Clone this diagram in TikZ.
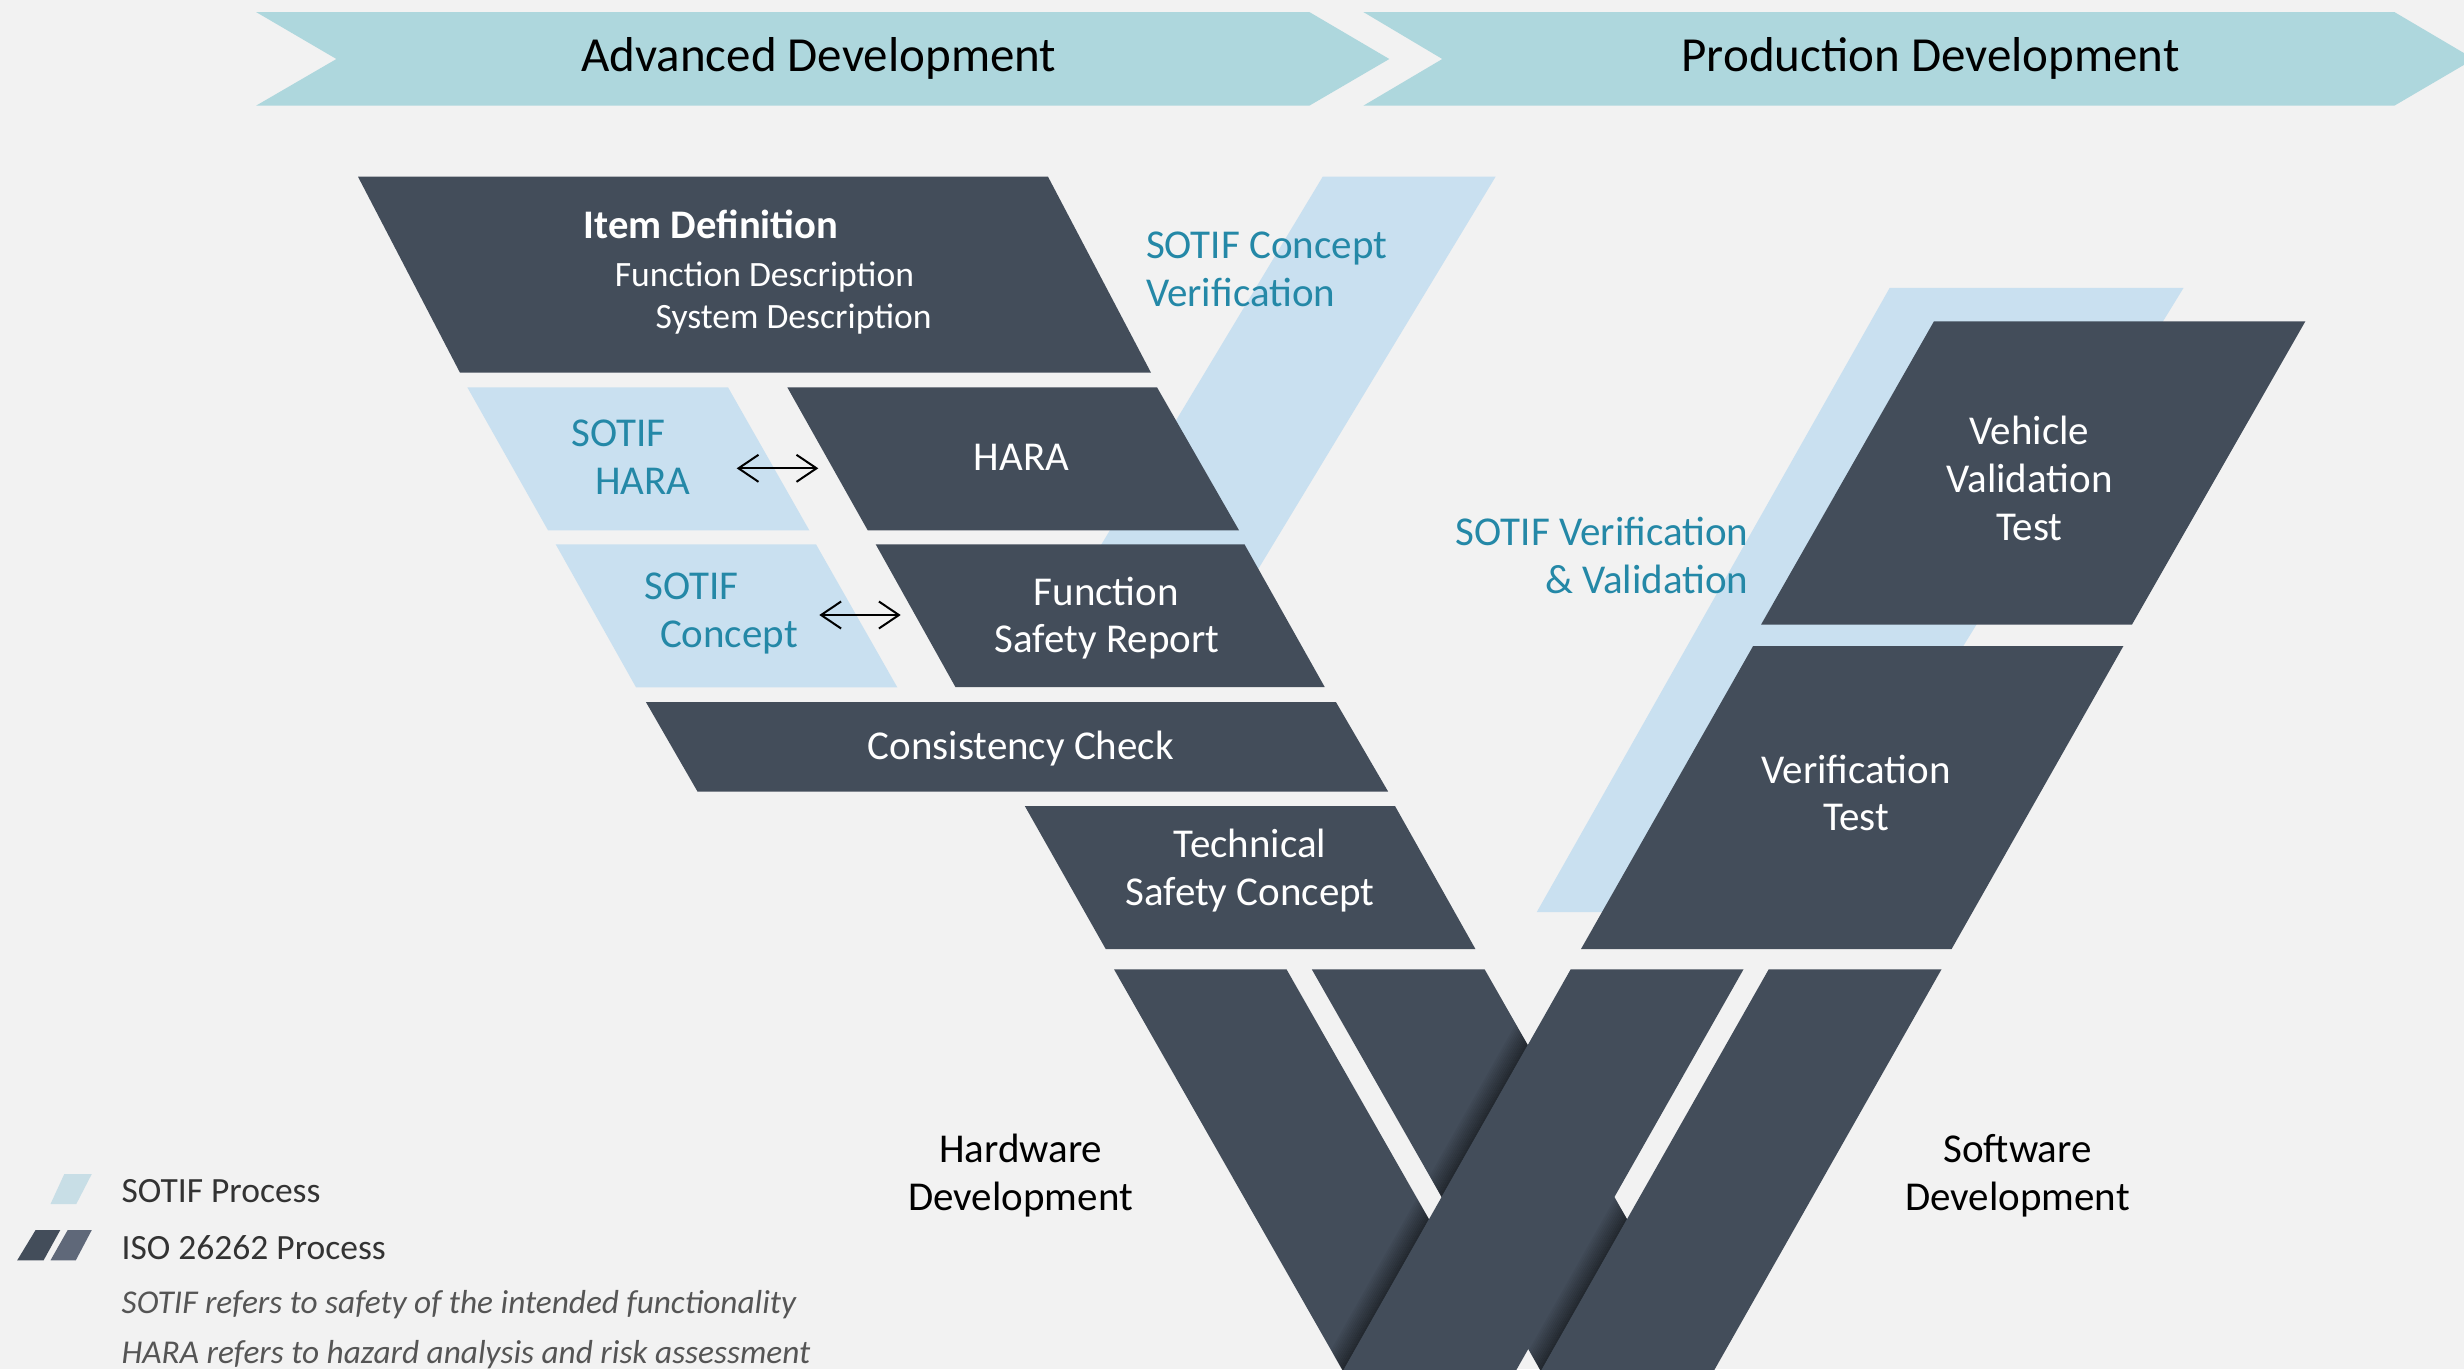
\documentclass[tikz,border=0pt]{standalone}
\usepackage{fontspec}
\setmainfont{Carlito}
\usetikzlibrary{arrows.meta}
\definecolor{bg}{HTML}{F2F2F2}
\definecolor{dark}{HTML}{434D5A}
\definecolor{lblue}{HTML}{C9E0F0}
\definecolor{chev}{HTML}{AED7DD}
\definecolor{tealtxt}{HTML}{2488A7}
\definecolor{legblue}{HTML}{C8DEE6}
\definecolor{leggrey}{HTML}{5F6879}
\definecolor{legtext}{HTML}{333333}
\definecolor{notetext}{HTML}{555555}
\begin{document}
\begin{tikzpicture}[x=1pt,y=-1pt,
  txt/.style={inner sep=0pt,outer sep=0pt,font=\fontsize{41}{49}\selectfont},
  wtxt/.style={txt,text=white},
  ttxt/.style={txt,text=tealtxt},
  btxt/.style={txt,text=black},
  isobox/.style={fill=dark},
  sotifbox/.style={fill=lblue},
  twoway/.style={{Straight Barb[length=20pt,width=27pt,line width=2pt]}-{Straight Barb[length=20pt,width=27pt,line width=2pt]},line width=2pt,black}]
\useasboundingbox (0,0) rectangle (2464,1369);
\fill[bg] (0,0) rectangle (2464,1369);
\clip (0,0) rectangle (2464,1369);

% phase chevrons
\fill[chev] (256,12) -- (1309.3,12) -- (1389.3,59) -- (1309.3,105.7) -- (256,105.7) -- (336.4,59) -- cycle;
\fill[chev] (1363.3,12) -- (2394.3,12) -- (2474,59) -- (2394.3,105.7) -- (1363.3,105.7) -- (1442.3,59) -- cycle;
\node[btxt,anchor=base,font=\fontsize{49}{58}\selectfont] (adv) at (818.7,71.7) {Advanced Development};
\node[btxt,anchor=base,font=\fontsize{49}{58}\selectfont] (prod) at (1930.5,71.7) {Production Development};

% SOTIF bands
\fill[sotifbox] (1322.7,176.7) -- (1495.6,176.7) -- (1203.2,660) -- (1031.8,660) -- cycle;
\fill[sotifbox] (1889.7,287.8) -- (2183.6,287.8) -- (1799.7,912) -- (1536.8,912) -- cycle;

% SOTIF boxes (left)
\fill[sotifbox] (467.3,387.3) -- (728,387.3) -- (809.3,530.3) -- (548,530.3) -- cycle;
\fill[sotifbox] (555.7,544.3) -- (816,544.3) -- (897.3,687.3) -- (636,687.3) -- cycle;

% ISO boxes left arm
\fill[isobox] (358,176.7) -- (1048,176.7) -- (1151,372.7) -- (460,372.7) -- cycle;
\fill[isobox] (787.3,387.3) -- (1157,387.3) -- (1239,530.3) -- (867.7,530.3) -- cycle;
\fill[isobox] (875.7,544.3) -- (1244.5,544.3) -- (1324.7,687) -- (955.4,687) -- cycle;
\fill[isobox] (645.9,702) -- (1335.9,702) -- (1388.2,791.7) -- (697.6,791.7) -- cycle;
\fill[isobox] (1024.8,806) -- (1395,806) -- (1475.4,949) -- (1105.7,949) -- cycle;

% ISO boxes right arm
\fill[isobox] (1933.9,321.4) -- (2305.3,321.4) -- (2132,624.5) -- (1761.1,624.5) -- cycle;
\fill[isobox] (1753.1,646) -- (2123.4,646) -- (1951.6,949) -- (1581,949) -- cycle;

% lower V pieces
\fill[isobox] (1114,969.3) -- (1286.5,969.3) -- (1532,1400) -- (1359.5,1400) -- cycle;
\fill[isobox] (1311.8,969.3) -- (1484.6,969.3) -- (1730.1,1400) -- (1557.3,1400) -- cycle;
\begin{scope}
  \clip (1114,969.3) -- (1286.5,969.3) -- (1532,1400) -- (1359.5,1400) -- cycle
        (1311.8,969.3) -- (1484.6,969.3) -- (1730.1,1400) -- (1557.3,1400) -- cycle;
  \foreach \i in {0,...,11}{
    \pgfmathsetmacro{\op}{0.45*(1-\i/12)}
    \fill[black,opacity=\op] (1570.7-2*\i,969.3) -- (1568.7-2*\i,969.3) -- (1324.5-2*\i,1400) -- (1326.5-2*\i,1400) -- cycle;
  }
\end{scope}
\fill[isobox] (1570.7,969.3) -- (1743.5,969.3) -- (1499.3,1400) -- (1326.5,1400) -- cycle;
\begin{scope}
  \clip (1311.8,969.3) -- (1484.6,969.3) -- (1730.1,1400) -- (1557.3,1400) -- cycle;
  \foreach \i in {0,...,11}{
    \pgfmathsetmacro{\op}{0.45*(1-\i/12)}
    \fill[black,opacity=\op] (1768.7-2*\i,969.3) -- (1766.7-2*\i,969.3) -- (1522.5-2*\i,1400) -- (1524.5-2*\i,1400) -- cycle;
  }
\end{scope}
\fill[isobox] (1768.7,969.3) -- (1941.5,969.3) -- (1697.3,1400) -- (1524.5,1400) -- cycle;

% texts in ISO boxes
\node[wtxt,anchor=base,font=\bfseries\fontsize{40.6}{48}\selectfont] (itemdef) at (711,238.3) {Item Definition};
\node[wtxt,anchor=base,font=\fontsize{35.6}{42}\selectfont] (funcdesc) at (764.5,286) {Function Description};
\node[wtxt,anchor=base,font=\fontsize{35.6}{42}\selectfont] (sysdesc) at (793.6,328.3) {System Description};
\node[wtxt,anchor=base] (hara) at (1021.4,470.1) {HARA};
\node[wtxt,anchor=base] (fsr1) at (1106.3,605) {Function};
\node[wtxt,anchor=base] (fsr2) at (1107,652) {Safety Report};
\node[wtxt,anchor=base] (cons) at (1020.8,759) {Consistency Check};
\node[wtxt,anchor=base] (tsc1) at (1250,857.3) {Technical};
\node[wtxt,anchor=base] (tsc2) at (1250,905.7) {Safety Concept};
\node[wtxt,anchor=base] (vvt1) at (2029.5,444.1) {Vehicle};
\node[wtxt,anchor=base] (vvt2) at (2029.5,492.6) {Validation};
\node[wtxt,anchor=base] (vvt3) at (2029.5,540.3) {Test};
\node[wtxt,anchor=base] (vt1) at (1856,783.3) {Verification};
\node[wtxt,anchor=base] (vt2) at (1856,830.5) {Test};

% SOTIF texts
\node[ttxt,anchor=base west] (sh1) at (571.7,446.7) {SOTIF};
\node[ttxt,anchor=base west] (sh2) at (595,494.3) {HARA};
\node[ttxt,anchor=base west] (sc1) at (644.3,599.3) {SOTIF};
\node[ttxt,anchor=base west] (sc2) at (660,647.3) {Concept};
\node[ttxt,anchor=base west] (scv1) at (1146,258.3) {SOTIF Concept};
\node[ttxt,anchor=base west] (scv2) at (1146,306) {Verification};
\node[ttxt,anchor=base east] (svv1) at (1748.5,545.7) {SOTIF Verification};
\node[ttxt,anchor=base east] (svv2) at (1748.5,593.4) {\& Validation};

% two-way arrows
\coordinate (ha) at (736.7,468.3);
\coordinate (hb) at (818.3,468.3);
\coordinate (ca) at (819.3,615);
\coordinate (cb) at (900.7,615);
\draw[twoway] (ha) -- (hb);
\draw[twoway] (ca) -- (cb);

% development labels
\node[btxt,anchor=base] (hw1) at (1020.6,1162.6) {Hardware};
\node[btxt,anchor=base] (hw2) at (1020.6,1210.3) {Development};
\node[btxt,anchor=base] (sw1) at (2017.5,1162.6) {Software};
\node[btxt,anchor=base] (sw2) at (2017.5,1210.3) {Development};

% legend
\fill[legblue] (64.3,1174) -- (91.8,1174) -- (76.3,1204) -- (50.5,1204) -- cycle;
\fill[dark] (35.6,1230) -- (60.3,1230) -- (43.6,1260.3) -- (17.2,1260.3) -- cycle;
\fill[leggrey] (67.7,1230) -- (91.8,1230) -- (75.8,1260.3) -- (50.5,1260.3) -- cycle;
\node[txt,text=legtext,anchor=base west,font=\fontsize{35.5}{42}\selectfont] (leg1) at (121.7,1202.7) {SOTIF Process};
\node[txt,text=legtext,anchor=base west,font=\fontsize{35.5}{42}\selectfont] (leg2) at (121.7,1259.3) {ISO 26262 Process};
\node[txt,text=notetext,anchor=base west,font=\itshape\fontsize{33.3}{40}\selectfont] (note1) at (121.7,1313.3) {SOTIF refers to safety of the intended functionality};
\node[txt,text=notetext,anchor=base west,font=\itshape\fontsize{33.3}{40}\selectfont] (note2) at (121.7,1363.3) {HARA refers to hazard analysis and risk assessment};
\end{tikzpicture}
\end{document}
